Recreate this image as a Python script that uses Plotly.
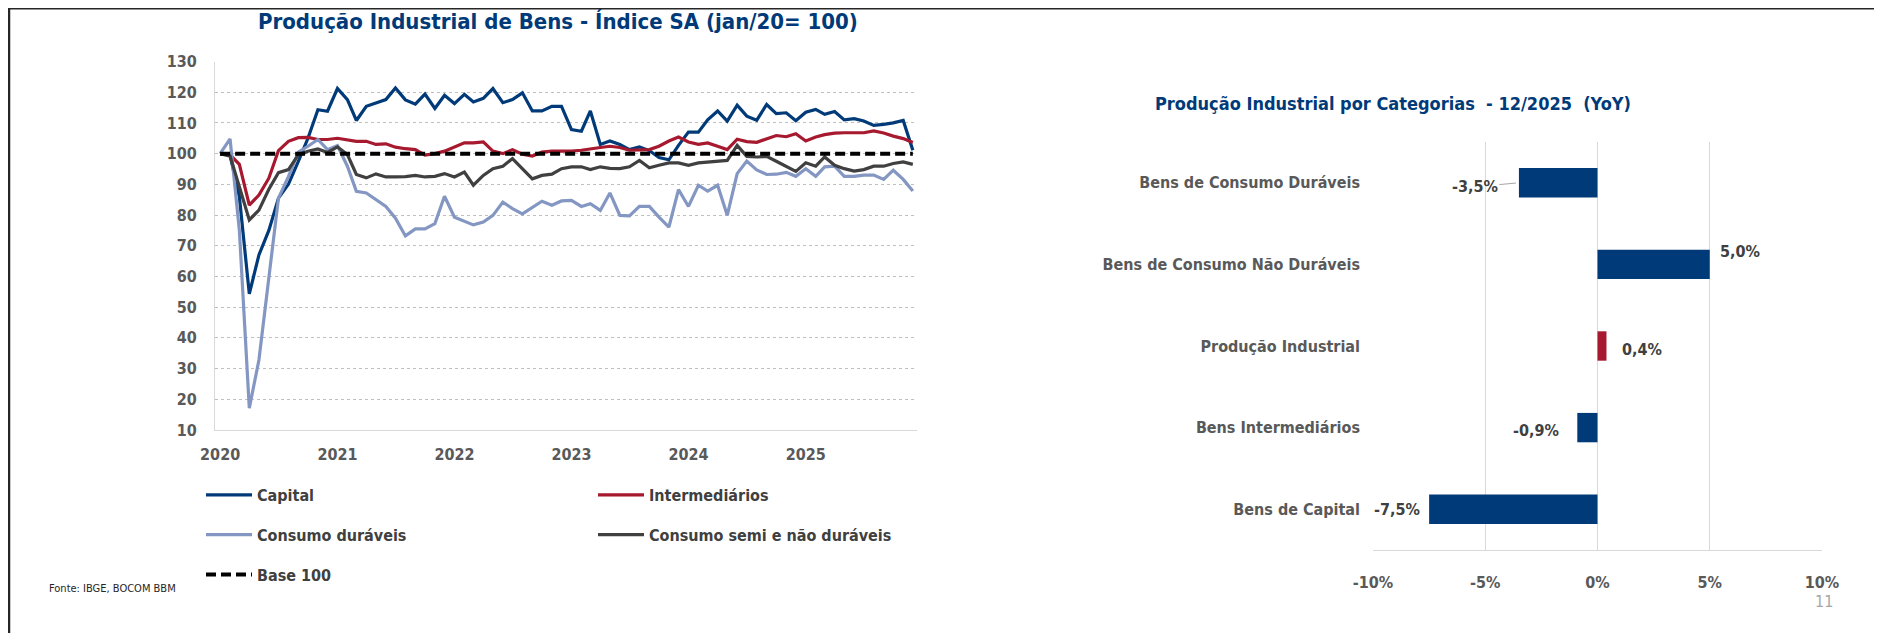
import pandas as pd
import plotly.graph_objects as go

# ---------------- DATA ----------------
months = pd.date_range("2020-01-01", "2025-12-01", freq="MS")

capital = [100, 99.5, 86, 54.3, 67, 75, 85.5, 90, 97.5, 105, 114.3, 113.8,
           121.2, 117.6, 110.8, 115.4, 116.5, 117.6, 121.4, 117.5, 116.1, 119.4, 114.7, 119,
           116.3, 119.3, 116.8, 118, 121.2, 116.6, 117.6, 119.8, 113.9, 113.9, 115.4, 115.4,
           107.8, 107.3, 113.9, 103, 104.1, 103, 101.3, 102.2, 101, 98.7, 98, 102.7,
           107, 107, 111, 113.9, 110.6, 115.8, 112.2, 110.9, 116, 113, 113.3, 110.7,
           113.5, 114.4, 112.8, 113.7, 111, 111.4, 110.6, 109.2, 109.5, 110, 110.8, 101.1]

intermediarios = [100, 99.6, 96.5, 83.2, 86.5, 92, 101, 104, 105.2, 105.3, 104.6, 104.6,
                  105, 104.6, 104, 104, 103, 103.2, 102.1, 101.6, 101.3, 99.5, 100, 100.8,
                  102.2, 103.5, 103.5, 103.8, 100.8, 100, 101.3, 99.8, 99.2, 100.5, 100.8, 100.8,
                  100.8, 101.1, 101.6, 102, 102.4, 102, 101.1, 101.1, 101.3, 102.4, 104.1, 105.4,
                  103.8, 103, 103.5, 102.4, 101.3, 104.7, 103.9, 103.7, 104.9, 105.9, 105.5, 106.5,
                  104.1, 105.4, 106.2, 106.7, 106.8, 106.8, 106.8, 107.4, 106.7, 105.7, 104.9, 103.6]

consumo_duraveis = [100, 104.8, 75, 17.1, 32.8, 60, 85.5, 92.5, 100.5, 102.4, 104.6, 101.3,
                    102.6, 95.9, 87.7, 87.2, 85, 82.8, 79, 73.2, 75.5, 75.5, 77.2, 86.1,
                    79.3, 78, 76.8, 77.7, 79.9, 84.2, 82.1, 80.4, 82.6, 84.5, 83.2, 84.6,
                    84.8, 82.8, 83.7, 81.5, 87.2, 79.9, 79.7, 82.8, 82.8, 79.3, 76.1, 88.3,
                    82.8, 89.7, 87.8, 89.7, 79.9, 93.5, 97.6, 94.7, 93.2, 93.3, 93.9, 92.6,
                    95.1, 92.6, 95.7, 95.9, 92.6, 92.6, 93, 93, 91.6, 94.6, 91.6, 87.8]

consumo_semi = [100, 99.2, 89.2, 78.4, 81.6, 88.4, 93.8, 94.8, 99.6, 100.8, 101.5, 100.4,
                102.2, 99.7, 93.2, 92.1, 93.4, 92.4, 92.4, 92.5, 92.9, 92.4, 92.6, 93.5,
                92.4, 94, 89.7, 92.9, 95.1, 95.9, 98.4, 95.1, 91.8, 92.9, 93.3, 95.1,
                95.7, 95.7, 94.8, 95.7, 95.2, 95.1, 95.7, 97.8, 95.4, 96.2, 97, 97,
                96.2, 97, 97.3, 97.6, 97.8, 102.7, 99.1, 98.9, 99.1, 97.5, 95.8, 94.2,
                97, 95.9, 98.9, 96.2, 95.1, 94.3, 94.8, 95.9, 95.9, 96.8, 97.3, 96.5]

base100 = [100] * 72

yoy_categories = ["Bens de Consumo Duráveis", "Bens de Consumo Não Duráveis",
                  "Produção Industrial", "Bens Intermediários", "Bens de Capital"]
yoy_values = [-3.5, 5.0, 0.4, -0.9, -7.5]

x2_ticks = [-10, -5, 0, 5, 10]
x2_ticktext = ["-10%", "-5%", "0%", "5%", "10%"]

# ---------------- STYLE ----------------
# The page body has an 8px margin, so the figure is drawn 8px in from the
# window's top-left corner; coordinates below are window pixels.
OFF = 8
W, H = 1882 - OFF, 633 - OFF
def px(x): return (x - OFF) / W
def py(y): return 1 - (y - OFF) / H

FONT = "Liberation Sans Narrow, DejaVu Sans Condensed, Arial Narrow, sans-serif"
NAVY = "#003A78"
RED = "#A6192E"
LIGHT = "#8496C2"
DGRAY = "#404040"
TXT = "#595959"

fig = go.Figure()

series = [
    ("Capital", capital, NAVY, "legend"),
    ("Intermediários", intermediarios, RED, "legend2"),
    ("Consumo duráveis", consumo_duraveis, LIGHT, "legend"),
    ("Consumo semi e não duráveis", consumo_semi, DGRAY, "legend2"),
]
for name, vals, col, leg in series:
    fig.add_trace(go.Scatter(x=months, y=vals, name=name, mode="lines",
                             line=dict(color=col, width=3.2),
                             legend=leg, legendgroup=name))
fig.add_trace(go.Scatter(x=months, y=base100, name="Base 100", mode="lines",
                         line=dict(color="#000000", width=4, dash="10px,5px"),
                         legend="legend", legendgroup="base"))

bar_colors = [RED if c == "Produção Industrial" else NAVY for c in yoy_categories]
fig.add_trace(go.Bar(x=yoy_values, y=yoy_categories, orientation="h",
                     marker=dict(color=bar_colors, line=dict(width=0)),
                     width=0.36, xaxis="x2", yaxis="y2", showlegend=False))

# bar labels
label_style = {
    "Bens de Consumo Duráveis": dict(arrow=True, ax=-44, ay=4),
    "Bens de Consumo Não Duráveis": dict(xshift=8, yshift=13),
    "Produção Industrial": dict(xshift=14, yshift=-3),
    "Bens Intermediários": dict(xshift=-16, yshift=-3),
    "Bens de Capital": dict(xshift=-7, yshift=0),
}
annotations = []
for cat, v in zip(yoy_categories, yoy_values):
    txt = f"{v:.1f}%".replace(".", ",")
    st = label_style[cat]
    base = dict(xref="x2", yref="y2", x=v, y=cat, text=txt,
                font=dict(family=FONT, size=16, color=DGRAY, weight="bold"))
    if st.get("arrow"):
        base.update(showarrow=True, ax=st["ax"], ay=st["ay"], arrowhead=0,
                    arrowwidth=1, arrowcolor="#a6a6a6", standoff=3)
    else:
        base.update(showarrow=False, xanchor="left" if v >= 0 else "right",
                    yanchor="middle", xshift=st["xshift"], yshift=st["yshift"])
    annotations.append(base)

annotations += [
    dict(xref="paper", yref="paper", x=px(558), y=py(22), showarrow=False,
         xanchor="center", yanchor="middle",
         text="Produção Industrial de Bens - Índice SA (jan/20= 100)",
         font=dict(family=FONT, size=22, color=NAVY, weight="bold")),
    dict(xref="paper", yref="paper", x=px(1393), y=py(103), showarrow=False,
         xanchor="center", yanchor="middle",
         text="Produção Industrial por Categorias  - 12/2025  (YoY)",
         font=dict(family=FONT, size=18, color=NAVY, weight="bold")),
    dict(xref="paper", yref="paper", x=px(47), y=py(588), showarrow=False,
         xanchor="left", yanchor="middle", text="Fonte: IBGE, BOCOM BBM",
         font=dict(family=FONT, size=11, color="#262626")),
    dict(xref="paper", yref="paper", x=px(1824), y=py(601), showarrow=False,
         xanchor="center", yanchor="middle",
         text="11", font=dict(family=FONT, size=16, color="#a6a6a6")),
]

shapes = [
    dict(type="line", xref="paper", yref="paper", x0=0, x1=1, y0=1, y1=1,
         line=dict(color="#262626", width=3)),
    dict(type="line", xref="paper", yref="paper", x0=px(9), x1=px(9), y0=1, y1=0,
         line=dict(color="#262626", width=2.5)),
]

tickfont = dict(family=FONT, size=16, color=TXT, weight="bold")
legfont = dict(family=FONT, size=16, color=DGRAY, weight="bold")

fig.update_layout(
    width=W, height=H,
    margin=dict(l=0, r=0, t=0, b=0, pad=0, autoexpand=False),
    paper_bgcolor="white", plot_bgcolor="white",
    font=dict(family=FONT),
    showlegend=True,
    xaxis=dict(domain=[px(215), px(917)], anchor="y", type="date",
               range=["2019-12-16", "2025-12-14"], tickformat="%Y", dtick="M12",
               tick0="2020-01-01", showgrid=False, showline=True, linecolor="#d9d9d9",
               ticks="", tickfont=tickfont, ticklabelstandoff=10, zeroline=False,
               automargin=False),
    yaxis=dict(domain=[py(430), py(61.5)], anchor="x", range=[10, 130], dtick=10,
               tick0=10, showgrid=True, gridcolor="#bfbfbf", griddash="dot", gridwidth=1,
               showline=True, linecolor="#d9d9d9", ticks="", tickfont=tickfont,
               ticklabelstandoff=14, zeroline=False, automargin=False),
    xaxis2=dict(domain=[px(1373), px(1822)], anchor="y2", range=[-10, 10],
                tickvals=x2_ticks, ticktext=x2_ticktext, showgrid=True,
                gridcolor="#d9d9d9", gridwidth=1, zeroline=False, showline=True,
                linecolor="#d9d9d9", ticks="", tickfont=tickfont, ticklabelstandoff=18,
                automargin=False),
    yaxis2=dict(domain=[py(550), py(142)], anchor="x2", type="category",
                categoryorder="array", categoryarray=yoy_categories,
                autorange="reversed", showgrid=False, showline=False, zeroline=False,
                ticks="", tickfont=tickfont, ticklabelstandoff=12, automargin=False),
    legend=dict(x=px(201), y=py(478), xanchor="left", yanchor="top",
                bgcolor="rgba(0,0,0,0)", font=legfont, tracegroupgap=16,
                itemwidth=46, traceorder="grouped"),
    legend2=dict(x=px(593), y=py(478), xanchor="left", yanchor="top",
                 bgcolor="rgba(0,0,0,0)", font=legfont, tracegroupgap=16,
                 itemwidth=46, traceorder="grouped"),
    annotations=annotations,
    shapes=shapes,
)

fig.write_html("out.html")
